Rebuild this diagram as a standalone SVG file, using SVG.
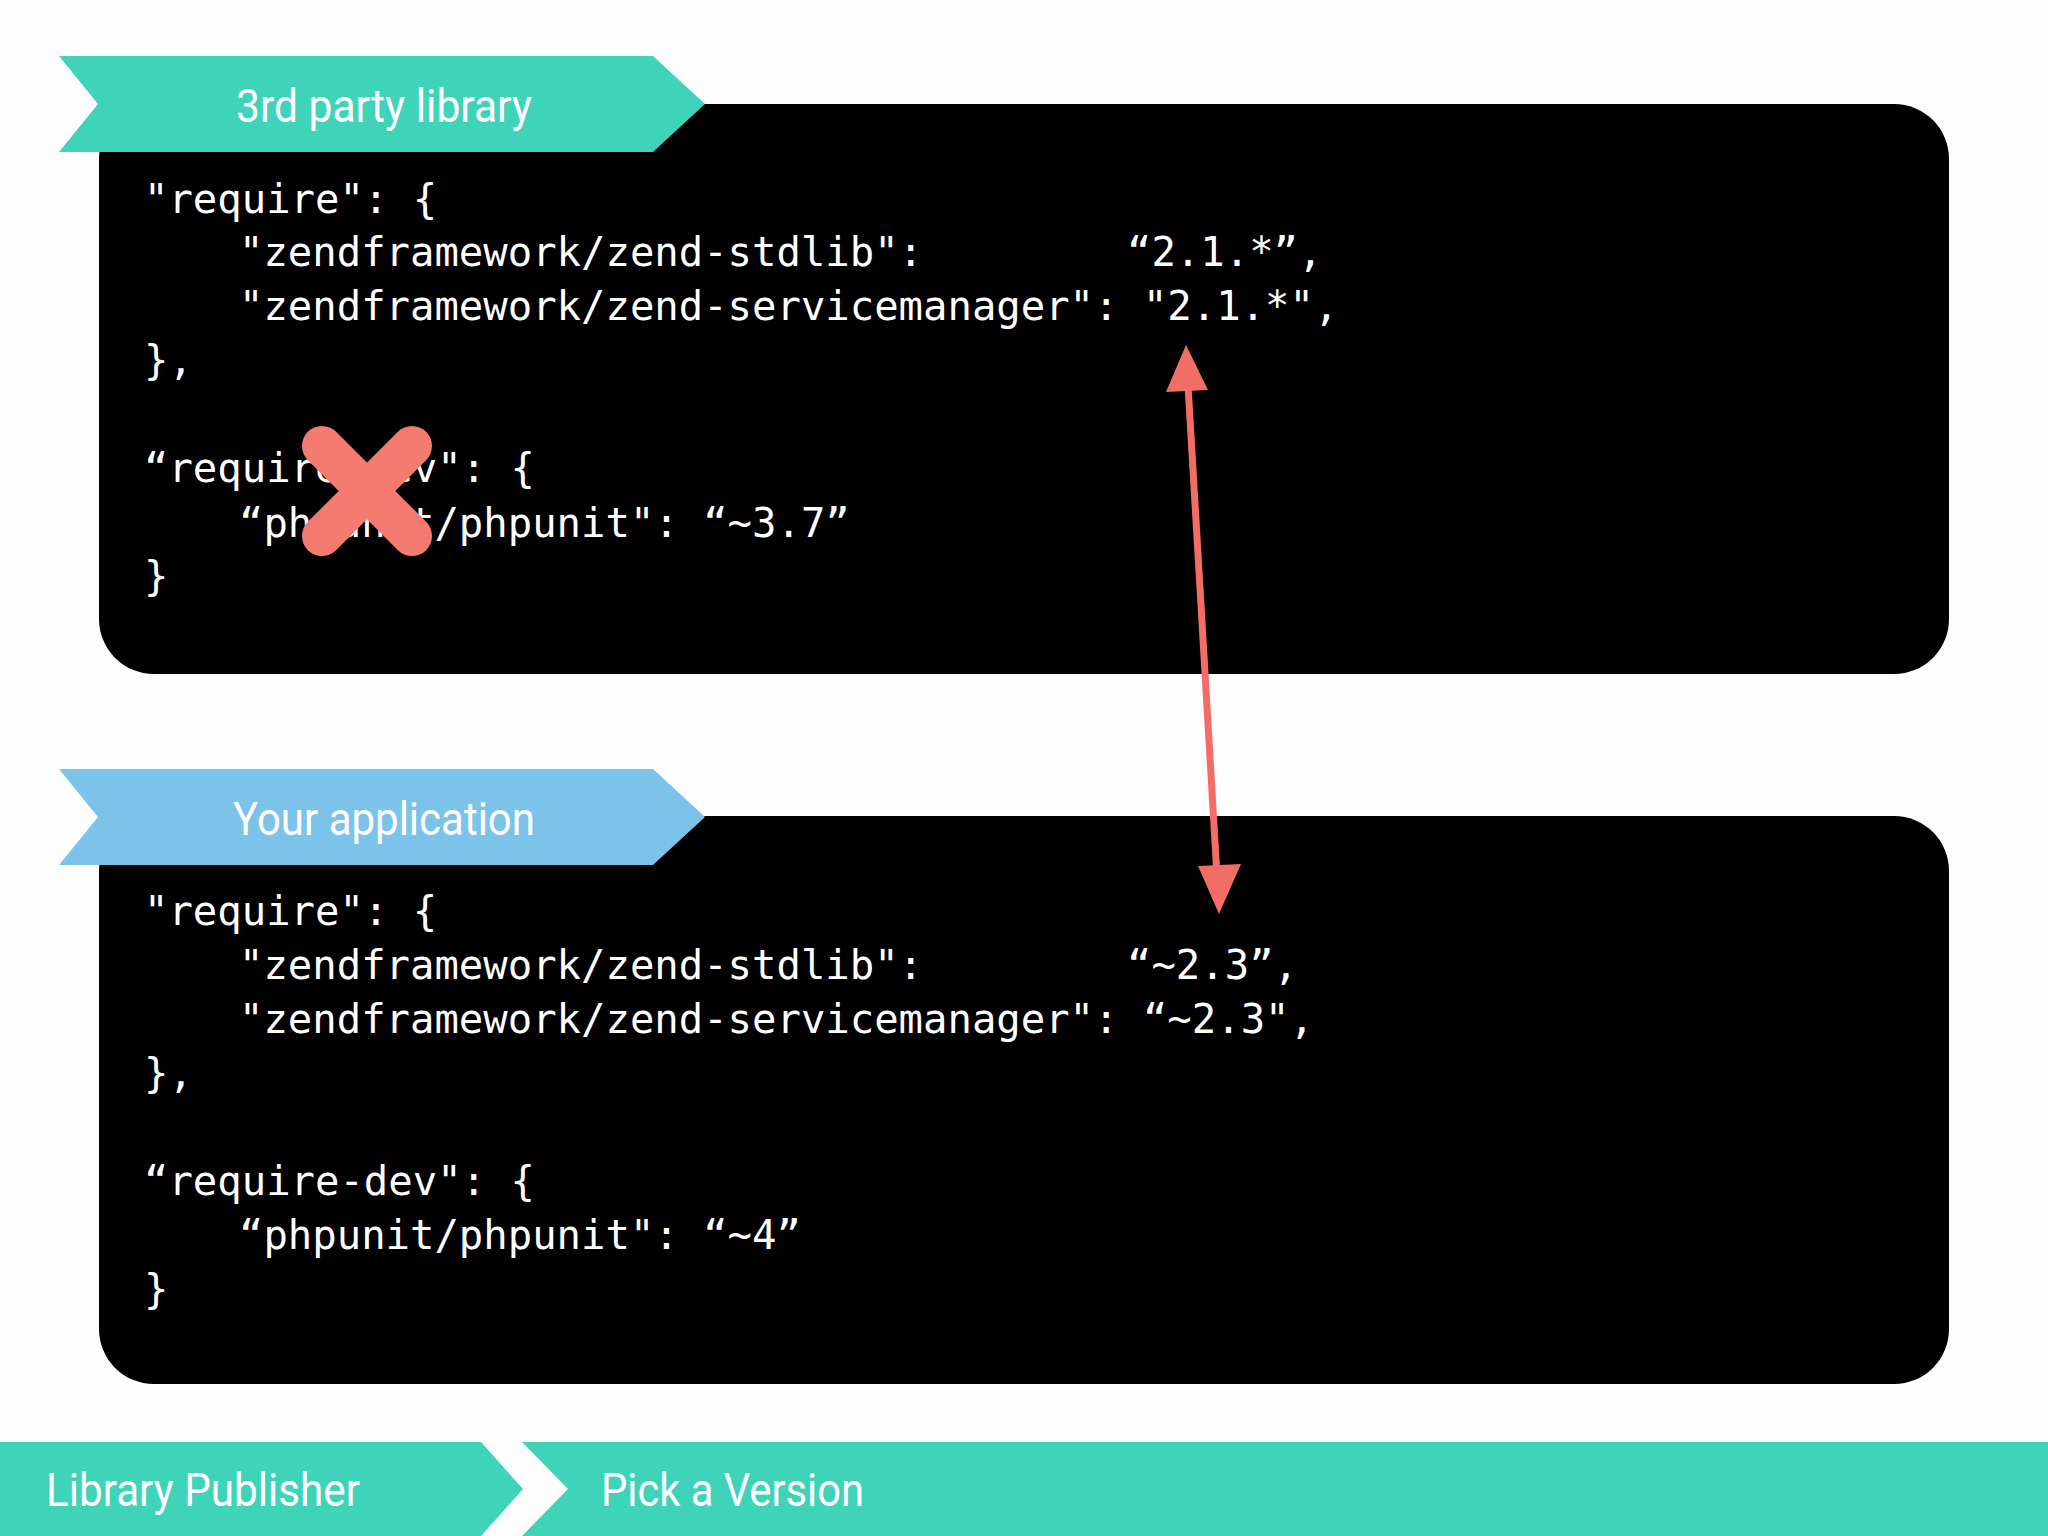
<svg xmlns="http://www.w3.org/2000/svg" width="2048" height="1536" viewBox="0 0 2048 1536">
<style>
.code{font-family:"DejaVu Sans Mono",monospace;font-size:40.6px;fill:#fff;white-space:pre}
.ban{font-family:Roboto,"Liberation Sans",sans-serif;font-size:46px;fill:#fff}
</style>
<defs>
<marker id="ah" viewBox="0 0 10 10" refX="9" refY="5" markerWidth="7" markerHeight="7" markerUnits="userSpaceOnUse" orient="auto-start-reverse"><path d="M0,0L10,5L0,10z" fill="#f26d64"/></marker>
<marker id="ah2" viewBox="0 0 10 10" refX="9" refY="5" markerWidth="8" markerHeight="8" orient="auto-start-reverse"><path d="M0,0L10,5L0,10z" fill="#f26d64"/></marker>
</defs>
<rect width="2048" height="1536" fill="#fdfdfd"/>
<g id="lib">
<rect x="99" y="104" width="1850" height="570" rx="55" fill="#000"/>
<polygon points="59,56 653,56 705,104 653,152 59,152 98,104" fill="#3fd3b9"/>
<text class="ban" x="384" y="122" text-anchor="middle" textLength="296" lengthAdjust="spacingAndGlyphs">3rd party library</text>
<text class="code" x="144" y="213">"require": {</text>
<text class="code" x="239" y="266">"zendframework/zend-stdlib":</text>
<text class="code" x="1127" y="266">“2.1.*”,</text>
<text class="code" x="239" y="320">"zendframework/zend-servicemanager": "2.1.*",</text>
<text class="code" x="144" y="374">},</text>
<text class="code" x="144" y="482">“require-dev": {</text>
<text class="code" x="239" y="537">“phpunit/phpunit": “~3.7”</text>
<text class="code" x="144" y="590">}</text>
</g>
<g id="app">
<rect x="99" y="816" width="1850" height="568" rx="55" fill="#000"/>
<polygon points="59,769 653,769 705,817 653,865 59,865 98,817" fill="#7cc3e9"/>
<text class="ban" x="384" y="835" text-anchor="middle" textLength="302" lengthAdjust="spacingAndGlyphs">Your application</text>
<text class="code" x="144" y="925">"require": {</text>
<text class="code" x="239" y="979">"zendframework/zend-stdlib":</text>
<text class="code" x="1127" y="979">“~2.3”,</text>
<text class="code" x="239" y="1033">"zendframework/zend-servicemanager": “~2.3",</text>
<text class="code" x="144" y="1087">},</text>
<text class="code" x="144" y="1195">“require-dev": {</text>
<text class="code" x="239" y="1249">“phpunit/phpunit": “~4”</text>
<text class="code" x="144" y="1303">}</text>
</g>
<g id="cross" stroke="#f47b6f" stroke-width="40" stroke-linecap="round">
<line x1="322" y1="446" x2="412" y2="536"/>
<line x1="412" y1="446" x2="322" y2="536"/>
</g>
<g id="connectors">
<line x1="1188" y1="385" x2="1217" y2="876" stroke="#f26d64" stroke-width="7"/>
<polygon points="1186,345 1166,392 1208,390" fill="#f26d64"/>
<polygon points="1219,914 1198,866 1241,864" fill="#f26d64"/>
</g>
<g id="footer">
<polygon points="0,1442 481,1442 523,1489 481,1536 0,1536" fill="#3fd3b9"/>
<polygon points="522,1442 2048,1442 2048,1536 522,1536 568,1489" fill="#3fd3b9"/>
<text class="ban" x="46" y="1506" textLength="314" lengthAdjust="spacingAndGlyphs">Library Publisher</text>
<text class="ban" x="601" y="1506" textLength="263" lengthAdjust="spacingAndGlyphs">Pick a Version</text>
</g>
</svg>
